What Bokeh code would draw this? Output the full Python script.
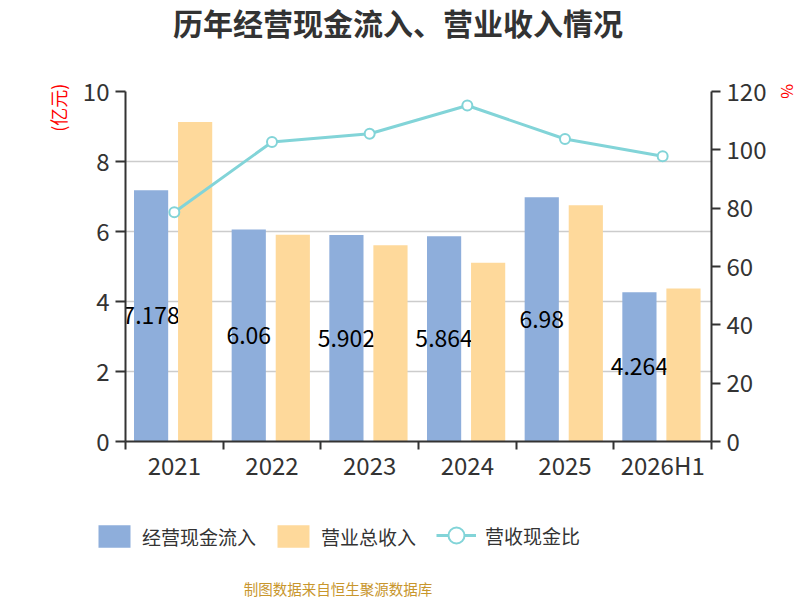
import numpy as np
from bokeh.plotting import figure
from bokeh.layouts import column
from bokeh.models import (Range1d, LinearAxis, FixedTicker, Label, Legend,
                          LegendItem, ColumnDataSource)
from bokeh.core.properties import value
from bokeh.embed import file_html
from bokeh.resources import INLINE

# ---- data ----
categories = ["2021", "2022", "2023", "2024", "2025", "2026H1"]
cash_inflow = [7.178, 6.06, 5.902, 5.864, 6.98, 4.264]      # 经营现金流入 (亿元)
revenue = [9.13, 5.91, 5.61, 5.11, 6.75, 4.37]              # 营业总收入 (亿元)
ratio = [78.6, 102.7, 105.5, 115.2, 103.7, 97.8]            # 营收现金比 (%)
left_ticks = [0, 2, 4, 6, 8, 10]
right_ticks = [0, 20, 40, 60, 80, 100, 120]

FONT = "Noto Sans CJK SC"
BLUE = "#8eaedb"
ORANGE = "#fed99b"
TEAL = "#82d4d8"
AXIS = "#333333"
W = 800


def blank(h):
    f = figure(width=W, height=h, x_range=Range1d(0, W), y_range=Range1d(0, h),
               output_backend="svg", toolbar_location=None,
               x_axis_location=None, y_axis_location=None, min_border=0)
    f.outline_line_color = None
    f.grid.visible = False
    if "frame_align" in f.properties():
        f.frame_align = False
    return f


# ---- title strip ----
top = blank(50)
top.add_layout(Label(x=397.5, y=28.5, x_units="screen", y_units="screen",
                     text="历年经营现金流入、营业收入情况", text_align="center",
                     text_baseline="middle", text_font=FONT,
                     text_font_size="30px", text_font_style="bold",
                     text_color=AXIS))

# ---- main chart ----
n = len(categories)
centers = np.arange(n) + 0.5
src = ColumnDataSource(dict(
    center=centers,
    xb=centers - 0.238,
    xo=centers + 0.213,
    cash=cash_inflow,
    rev=revenue,
    ratio=ratio,
    mid=np.array(cash_inflow) / 2.0,
    label=[f"{v:g}" for v in cash_inflow],
))

p = figure(width=W, height=450, frame_width=586, frame_height=350,
           x_range=Range1d(0, n), y_range=Range1d(0, 10),
           output_backend="svg", toolbar_location=None,
           min_border_left=125, min_border_right=89,
           min_border_top=41, min_border_bottom=59)
p.outline_line_color = None
p.extra_y_ranges = {"pct": Range1d(0, 120)}
if "frame_align" in p.properties():
    p.frame_align = False

xa = p.xaxis[0]
xa.ticker = FixedTicker(ticks=list(centers), minor_ticks=list(range(n + 1)))
xa.major_label_overrides = {float(c): cat for c, cat in zip(centers, categories)}
xa.major_tick_line_color = None
xa.major_tick_out = 0
xa.major_tick_in = 0
xa.minor_tick_out = 8
xa.minor_tick_in = 0
xa.minor_tick_line_color = AXIS
xa.minor_tick_line_width = 2
xa.axis_line_color = AXIS
xa.axis_line_width = 2
xa.major_label_text_font = FONT
xa.major_label_text_font_size = "24px"
xa.major_label_text_color = AXIS
xa.major_label_standoff = -3

ya = p.yaxis[0]
ya.ticker = FixedTicker(ticks=left_ticks)
ra = LinearAxis(y_range_name="pct", ticker=FixedTicker(ticks=right_ticks))
p.add_layout(ra, "right")
for ax, tout in ((ya, 10), (ra, 9)):
    ax.minor_tick_line_color = None
    ax.major_tick_out = tout
    ax.major_tick_in = 0
    ax.major_tick_line_color = AXIS
    ax.major_tick_line_width = 2
    ax.axis_line_color = AXIS
    ax.axis_line_width = 2
    ax.major_label_text_font = FONT
    ax.major_label_text_font_size = "24px"
    ax.major_label_text_color = AXIS
    ax.major_label_standoff = 6
    ax.axis_label_text_font = FONT
    ax.axis_label_text_font_style = "normal"
    ax.axis_label_text_color = "#ff0000"

ya.axis_label_text_font_size = "18px"
ra.axis_label_text_font_size = "16px"
if "axis_label_align" in ya.properties():
    ya.axis_label = "(亿元)" + "\u00a0" * 8
    ra.axis_label = "%"
    ya.axis_label_align = "end"
    ra.axis_label_align = "end"
else:
    ya.axis_label = "\u00a0" * 90 + "(亿元)"
    ra.axis_label = "\u00a0" * 103 + "%"
ya.axis_label_standoff = 9
ra.axis_label_standoff = 7

p.xgrid.visible = False
p.ygrid[0].ticker = FixedTicker(ticks=left_ticks)
p.ygrid.grid_line_color = "#cccccc"
p.ygrid.grid_line_width = 1.5

r_cash = p.vbar(x="xb", top="cash", bottom=0, width=0.35, source=src,
                fill_color=BLUE, line_color=None)
p.text(x="xb", y="mid", text="label", source=src, text_align="center",
       text_baseline="middle", text_font_size="23px", text_color="black",
       text_font=value(FONT))
r_rev = p.vbar(x="xo", top="rev", bottom=0, width=0.35, source=src,
               fill_color=ORANGE, line_color=None)
p.line(x="center", y="ratio", source=src, y_range_name="pct",
       line_color=TEAL, line_width=3)
p.scatter(x="center", y="ratio", source=src, y_range_name="pct",
          marker="circle", size=10, fill_color="white",
          line_color=TEAL, line_width=2)

# ---- legend + source strip ----
bot = blank(100)
proxy = ColumnDataSource(dict(x=[np.nan], y=[np.nan]))
lb = bot.vbar(x="x", top="y", width=1, source=proxy, fill_color=BLUE, line_color=None)
lo = bot.vbar(x="x", top="y", width=1, source=proxy, fill_color=ORANGE, line_color=None)
ll = bot.line(x="x", y="y", source=proxy, line_color=TEAL, line_width=3)
lp = bot.scatter(x="x", y="y", source=proxy, marker="circle", size=10,
                 fill_color="white", line_color=TEAL, line_width=2)

common = dict(orientation="horizontal", padding=0, margin=0,
              label_text_font=FONT, label_text_font_size="19px",
              label_text_color=AXIS, border_line_color=None,
              background_fill_alpha=0)
leg1 = Legend(items=[LegendItem(label="经营现金流入", renderers=[lb]),
                     LegendItem(label="营业总收入", renderers=[lo])],
              location=(94, 50), glyph_width=40, glyph_height=28,
              label_height=28, label_standoff=8, spacing=17, **common)
leg2 = Legend(items=[LegendItem(label="营收现金比", renderers=[ll, lp])],
              location=(436, 45), glyph_width=40, glyph_height=40,
              label_height=40, label_standoff=9, spacing=0, **common)
bot.add_layout(leg1, "center")
bot.add_layout(leg2, "center")
bot.add_layout(Label(x=337.4, y=12, x_units="screen", y_units="screen",
                     text="制图数据来自恒生聚源数据库", text_align="center",
                     text_baseline="middle", text_font=FONT,
                     text_font_size="14.5px", text_color="#c8962d"))

layout = column(top, p, bot, spacing=0)
open("out.html", "w").write(file_html(layout, INLINE))
